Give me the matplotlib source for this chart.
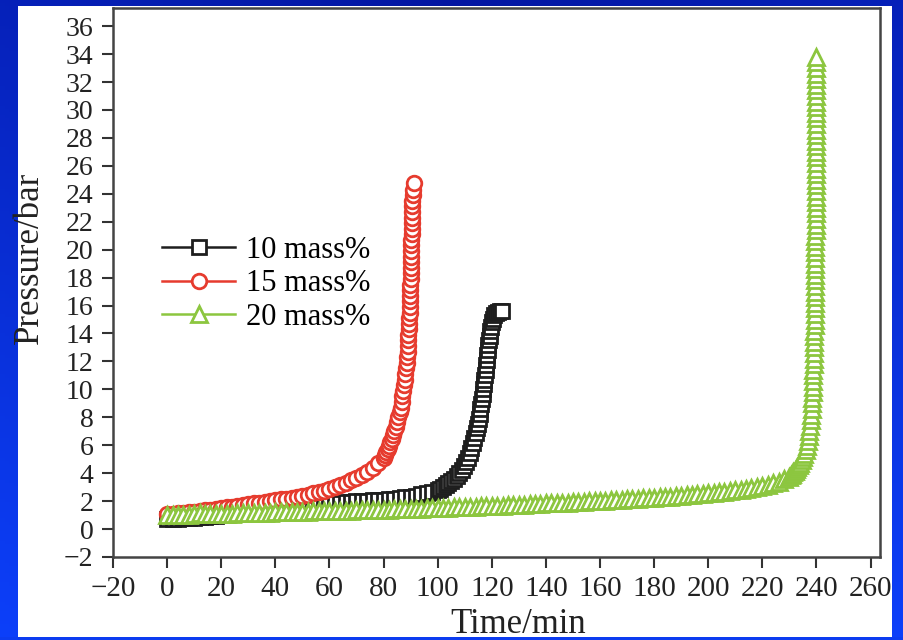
import numpy as np
import matplotlib
matplotlib.use("Agg")
import matplotlib.pyplot as plt
from matplotlib.patches import Rectangle

# pressure (bar) vs time (min)
t_10 = [0, 2, 4, 6, 8, 10, 12, 14, 16, 18, 20, 22, 24, 26, 28, 30, 32, 34, 36, 38,
        40, 42, 44, 46, 48, 50, 52, 54, 56, 58, 60, 62, 64, 66, 68, 70, 72, 74, 76, 78,
        80, 82, 84, 86, 88, 90, 92, 94, 96, 98, 100,
        101, 102, 103, 104, 105, 106, 107, 108, 109, 109.8,
        110.5, 111.2, 111.8, 112.4, 113.0, 113.5, 114.0, 114.4, 114.8, 115.2,
        115.5, 115.8, 116.1, 116.4, 116.7, 116.9, 117.1, 117.3, 117.5, 117.7,
        117.9, 118.1, 118.3, 118.5, 118.7, 118.9, 119.2, 119.5, 119.8, 120.1,
        120.5, 121.0, 121.6, 122.3, 123.0, 123.7]
p_10 = [0.70, 0.72, 0.74, 0.76, 0.78, 0.80, 0.84, 0.87, 0.90, 0.94, 0.98, 1.02, 1.06,
        1.10, 1.14, 1.18, 1.22, 1.27, 1.31, 1.35, 1.40, 1.44, 1.49, 1.54, 1.58, 1.63,
        1.68, 1.72, 1.77, 1.81, 1.85, 1.88, 1.90, 1.93, 1.95, 1.98, 2.00, 2.03, 2.05,
        2.08, 2.10, 2.14, 2.18, 2.22, 2.27, 2.33, 2.40, 2.48, 2.57, 2.68, 2.80,
        2.90, 3.00, 3.15, 3.30, 3.45, 3.60, 3.80, 4.00, 4.25, 4.50,
        4.80, 5.10, 5.45, 5.80, 6.15, 6.50, 6.85, 7.20, 7.55, 7.90,
        8.25, 8.60, 8.95, 9.30, 9.65, 10.0, 10.35, 10.7, 11.05, 11.4,
        11.75, 12.1, 12.45, 12.8, 13.15, 13.5, 13.85, 14.2, 14.5, 14.8,
        15.05, 15.3, 15.45, 15.55, 15.6, 15.6]

t_15 = [0, 2, 4, 6, 8, 10, 12, 14, 16, 18, 20, 22, 24, 26, 28, 30, 32, 34, 36, 38,
        40, 42, 44, 46, 48, 50, 52, 54, 56, 58, 60, 62, 64, 66, 68, 70, 72, 74, 76, 78,
        80, 80.5, 81, 81.5, 82, 82.5, 83, 83.5, 84, 84.5,
        85, 85.5, 85.9, 86.3, 86.7, 87.0, 87.3, 87.6, 87.9, 88.1,
        88.3, 88.5, 88.7, 88.9, 89.0, 89.1, 89.2, 89.3, 89.4, 89.5,
        89.6, 89.6, 89.7, 89.8, 89.8, 89.9, 90.0, 90.0, 90.1, 90.1,
        90.2, 90.2, 90.3, 90.3, 90.4, 90.4, 90.5, 90.5, 90.6, 90.6,
        90.7, 90.8, 90.9, 91.1]
p_15 = [1.05, 1.08, 1.12, 1.16, 1.20, 1.24, 1.28, 1.33, 1.38, 1.43, 1.49, 1.55, 1.60,
        1.66, 1.72, 1.78, 1.83, 1.89, 1.94, 2.00, 2.05, 2.12, 2.18, 2.24, 2.31, 2.38,
        2.46, 2.55, 2.65, 2.76, 2.88, 3.00, 3.14, 3.30, 3.48, 3.68, 3.90, 4.12, 4.40,
        4.72, 5.10, 5.30, 5.50, 5.70, 5.95, 6.20, 6.45, 6.70, 7.00, 7.30,
        7.65, 8.00, 8.35, 8.70, 9.10, 9.50, 9.90, 10.3, 10.7, 11.1,
        11.5, 11.9, 12.3, 12.7, 13.1, 13.5, 13.9, 14.3, 14.7, 15.1,
        15.5, 15.9, 16.3, 16.7, 17.1, 17.5, 17.9, 18.3, 18.7, 19.1,
        19.5, 19.9, 20.3, 20.7, 21.1, 21.5, 21.9, 22.3, 22.7, 23.1,
        23.5, 23.9, 24.3, 24.8]

t_20 = [0, 2, 4, 6, 8, 10, 12, 14, 16, 18, 20, 22, 24, 26, 28, 30, 32, 34, 36, 38,
        40, 42, 44, 46, 48, 50, 52, 54, 56, 58, 60, 62, 64, 66, 68, 70, 72, 74, 76, 78,
        80, 82, 84, 86, 88, 90, 92, 94, 96, 98, 100, 102, 104, 106, 108, 110, 112, 114,
        116, 118, 120, 122, 124, 126, 128, 130, 132, 134, 136, 138, 140, 142, 144, 146,
        148, 150, 152, 154, 156, 158, 160, 162, 164, 166, 168, 170, 172, 174, 176, 178,
        180, 182, 184, 186, 188, 190, 192, 194, 196, 198, 200, 202, 204, 206, 208, 210,
        212, 214, 216, 218, 220, 222, 224, 226, 228, 230,
        230.5, 231, 231.5, 232, 232.5, 233, 233.5, 234, 234.5, 235,
        235.5, 236.0, 236.4, 236.8, 237.1, 237.4, 237.7, 237.9, 238.1, 238.3,
        238.4, 238.5, 238.6, 238.7, 238.8, 238.9, 238.9, 239.0, 239.0, 239.1,
        239.1, 239.2, 239.2, 239.2, 239.3, 239.3, 239.3, 239.4, 239.4, 239.4,
        239.4, 239.5, 239.5, 239.5, 239.5, 239.5, 239.6, 239.6, 239.6, 239.6,
        239.6, 239.7, 239.7, 239.7, 239.7, 239.7, 239.7, 239.8, 239.8, 239.8,
        239.8, 239.8, 239.8, 239.9, 239.9, 239.9, 239.9, 239.9, 239.9, 239.9,
        239.95, 239.95, 239.95, 239.95, 240.0, 240.0, 240.0, 240.0, 240.0, 240.0,
        240.0, 240.0, 240.0]
p_20 = [1.00, 1.02, 1.01, 1.03, 1.04, 1.05, 1.12, 1.07, 1.08, 1.09,
        1.10, 1.11, 1.11, 1.12, 1.13, 1.15, 1.15, 1.16, 1.17, 1.18,
        1.19, 1.20, 1.21, 1.22, 1.22, 1.24, 1.25, 1.26, 1.27, 1.27,
        1.28, 1.30, 1.30, 1.31, 1.32, 1.33, 1.35, 1.35, 1.36, 1.37,
        1.38, 1.40, 1.41, 1.42, 1.42, 1.44, 1.45, 1.46, 1.48, 1.49,
        1.50, 1.52, 1.53, 1.55, 1.56, 1.58, 1.59, 1.60, 1.62, 1.63,
        1.65, 1.67, 1.68, 1.70, 1.72, 1.74, 1.75, 1.77, 1.79, 1.81,
        1.83, 1.85, 1.86, 1.88, 1.90, 1.92, 1.94, 1.96, 1.98, 2.00,
        2.02, 2.04, 2.06, 2.08, 2.10, 2.13, 2.15, 2.17, 2.20, 2.22,
        2.25, 2.27, 2.30, 2.33, 2.36, 2.39, 2.42, 2.45, 2.48, 2.52,
        2.55, 2.59, 2.63, 2.67, 2.72, 2.77, 2.82, 2.88, 2.95, 3.02,
        3.10, 3.18, 3.28, 3.40, 3.55, 3.75,
        3.85, 3.95, 4.05, 4.15, 4.30, 4.45, 4.60, 4.75, 4.95, 5.15,
        5.40, 5.65, 5.95, 6.30, 6.65, 7.00, 7.40, 7.80, 8.20, 8.60,
        9.00, 9.40, 9.80, 10.2, 10.6, 11.0, 11.4, 11.8, 12.2, 12.6,
        13.0, 13.4, 13.8, 14.2, 14.6, 15.0, 15.4, 15.8, 16.2, 16.6,
        17.0, 17.4, 17.8, 18.2, 18.6, 19.0, 19.4, 19.8, 20.2, 20.6,
        21.0, 21.4, 21.8, 22.2, 22.6, 23.0, 23.4, 23.8, 24.2, 24.6,
        25.0, 25.4, 25.8, 26.2, 26.6, 27.0, 27.4, 27.8, 28.2, 28.6,
        29.0, 29.4, 29.8, 30.2, 30.6, 31.0, 31.4, 31.8, 32.2, 32.6,
        33.0, 33.4, 33.8]

labels = ["10 mass%", "15 mass%", "20 mass%"]
colors = ["#1e1e1e", "#e63b2e", "#8cc63f"]

plt.rcParams['font.family'] = ['Liberation Serif', 'DejaVu Serif']

fig = plt.figure(figsize=(9.04, 6.4), dpi=100)

# slide background: blue gradient + white panel
bg = fig.add_axes([0, 0, 1, 1], zorder=-2)
yy, xx = np.mgrid[0:1:200j, 0:1:200j]
grad = np.clip(0.25 + 0.55 * yy + 0.2 * np.abs(xx - 0.5) * 2, 0, 1)
c_dark = np.array([0.0, 0.03, 0.52])
c_light = np.array([0.05, 0.25, 0.98])
img = c_dark[None, None, :] * (1 - grad[..., None]) + c_light[None, None, :] * grad[..., None]
bg.imshow(img, extent=[0, 1, 0, 1], aspect='auto', origin='upper')
bg.add_patch(Rectangle((18 / 904, 3 / 640), 874 / 904, 631 / 640, facecolor='white',
                       edgecolor='none'))
bg.set_xlim(0, 1)
bg.set_ylim(0, 1)
bg.axis('off')

ax = fig.add_axes([113 / 904, 83 / 640, 767 / 904, 549 / 640])
ax.patch.set_alpha(0)

ax.plot(t_10, p_10, color=colors[0], marker='s', ms=10, mfc='white', mew=2.0, lw=1.8,
        label=labels[0])
ax.plot(t_15, p_15, color=colors[1], marker='o', ms=10.5, mfc='white', mew=2.0, lw=1.8,
        label=labels[1])
ax.plot(t_20, p_20, color=colors[2], marker='^', ms=12, mfc='white', mew=2.0, lw=1.8,
        label=labels[2])

ax.set_xlim(-20, 263.5)
ax.set_ylim(-2, 37.3)
ax.set_xticks(range(-20, 261, 20))
ax.set_yticks(range(-2, 37, 2))
ax.tick_params(axis='both', direction='out', length=8, width=1.5, color='#333333',
               labelcolor='#222222', pad=6, top=False, right=False)
ax.tick_params(axis='x', labelsize=21)
ax.tick_params(axis='y', labelsize=20)
for s in ax.spines.values():
    s.set_linewidth(1.8)
    s.set_color('#444444')

ax.set_xlabel("Time/min", fontsize=25, color='#222222')
ax.xaxis.set_label_coords(0.528, -0.093)
ax.set_ylabel("Pressure/bar", fontsize=25, color='#222222')
ax.yaxis.set_label_coords(-0.087, 0.5455)

ax.legend(loc='upper left', bbox_to_anchor=(162 / 904, 1 - 236 / 640),
          bbox_transform=fig.transFigure, frameon=False, fontsize=22,
          handlelength=2.4, handletextpad=0.35, labelspacing=0.14, borderpad=0,
          borderaxespad=0)

# blue strip at the very bottom covers the label, as in the slide
fig.patches.append(Rectangle((0, 0), 1, 3 / 640, transform=fig.transFigure,
                             facecolor='#0c3cf0', edgecolor='none', zorder=10,
                             figure=fig))

fig.savefig("out.png", dpi=100)
